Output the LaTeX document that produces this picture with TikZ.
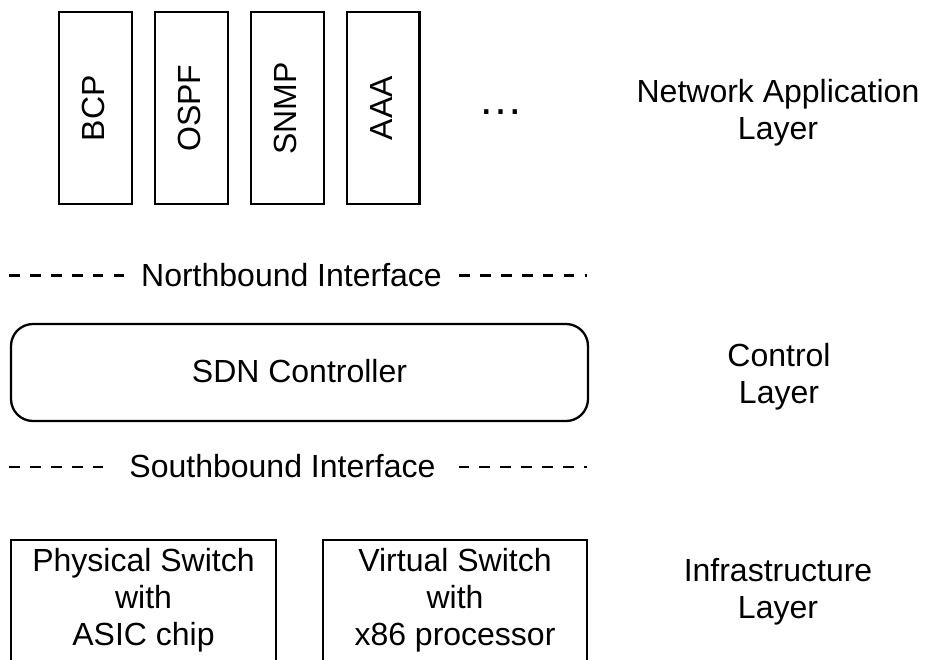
\documentclass[tikz,border=0pt]{standalone}
\usepackage{fontspec}
\setmainfont{Liberation Sans}
\begin{document}
\begin{tikzpicture}[x=1pt,y=-1pt,
  every node/.style={font=\fontsize{32}{37}\selectfont, inner sep=0pt},
  frame/.style={draw, line width=2.3pt},
  appbox/.style={frame, rotate=90, minimum width=192pt, minimum height=72.4pt, text depth=4pt},
  switchbox/.style={frame, align=center, minimum height=126pt, text depth=12pt},
  layerlabel/.style={align=center},
  iface/.style={line width=2.3pt, dash pattern=on 10.5pt off 10.4pt}
]
\useasboundingbox (0,0) rectangle (929,659);
\clip (0,0) rectangle (929,659);

% network applications
\node[appbox] (bcp)  at (95.5,108.3)  {BCP};
\node[appbox] (ospf) at (191.5,108.3) {OSPF};
\node[appbox] (snmp) at (287.5,108.3) {SNMP};
\node[appbox] (aaa)  at (383.3,108.3) {AAA};
\node[anchor=base, font=\fontsize{45}{50}\selectfont] (more) at (500.5,114.5) {…};

% northbound interface
\node[anchor=base] (north) at (291.5,286) {Northbound Interface};
\coordinate (nl1) at (9.3,275.4);
\coordinate (nl2) at (124.3,275.4);
\coordinate (nr1) at (459.3,275.4);
\coordinate (nr2) at (587,275.4);
\draw[iface] (nl1) -- (nl2);
\draw[iface] (nr1) -- (nr2);

% control layer
\node[frame, rounded corners=22pt, minimum width=577pt, minimum height=97pt, text depth=4pt]
  (ctrl) at (299.5,372.5) {SDN Controller};

% southbound interface
\node[anchor=base] (south) at (282.5,477) {Southbound Interface};
\coordinate (sl1) at (9.3,466.8);
\coordinate (sl2) at (105,466.8);
\coordinate (sr1) at (458.5,466.8);
\coordinate (sr2) at (587,466.8);
\draw[iface] (sl1) -- (sl2);
\draw[iface] (sr1) -- (sr2);

% infrastructure (boxes run past the lower edge)
\node[switchbox, minimum width=265pt] (phys) at (143.5,603) {Physical Switch\\with\\ASIC chip};
\node[switchbox, minimum width=264pt] (virt) at (455,603) {Virtual Switch\\with\\x86 processor};

% layer names
\node[layerlabel] (applayer)  at (778,112.3) {Network Application\\Layer};
\node[layerlabel] (ctrllayer) at (779,376.3) {Control\\Layer};
\node[layerlabel] (infralayer) at (778,591.8) {Infrastructure\\Layer};
\end{tikzpicture}
\end{document}
